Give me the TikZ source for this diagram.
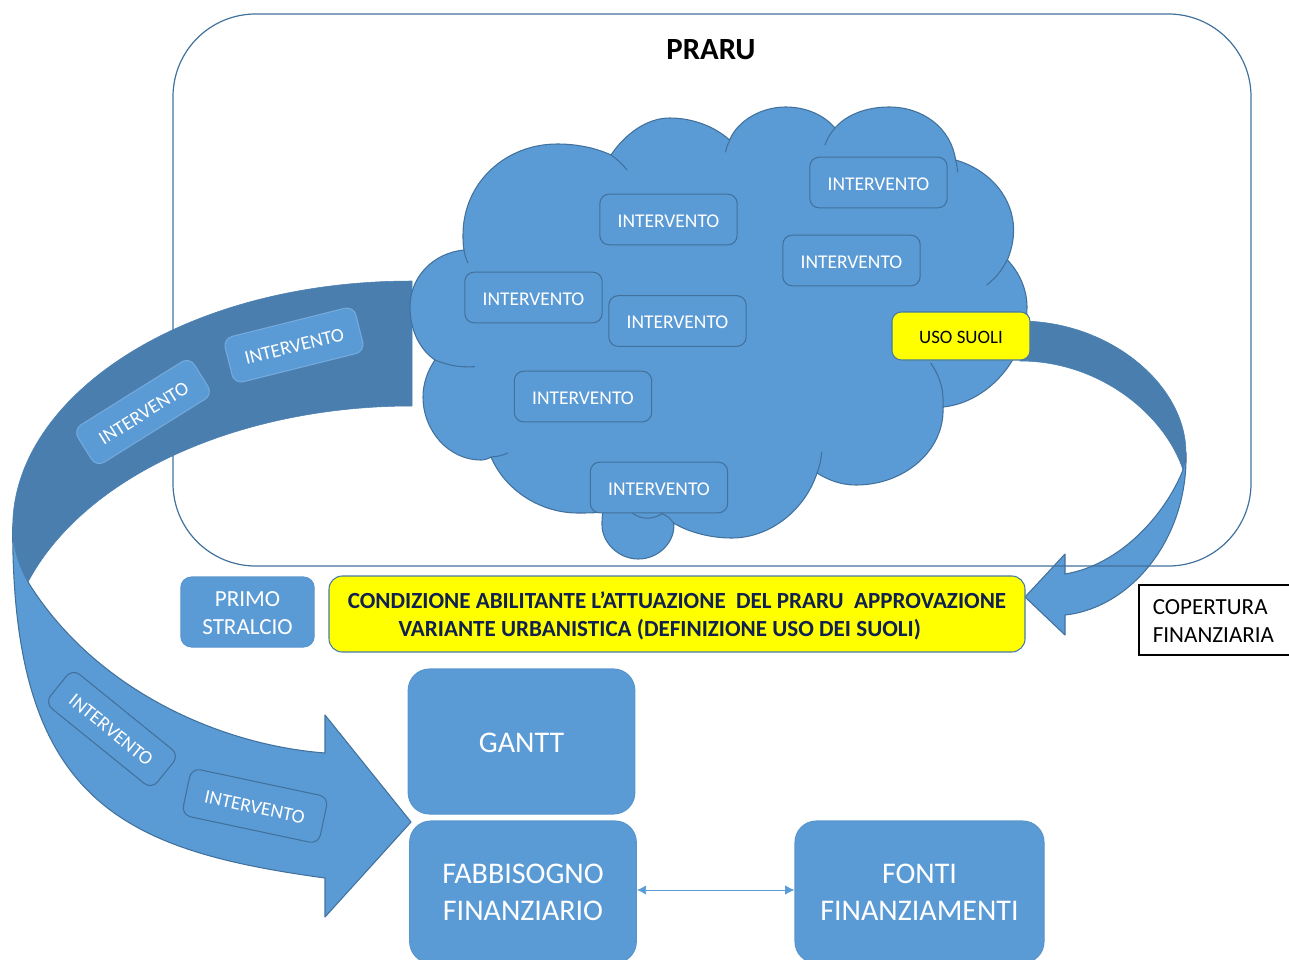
\documentclass[tikz,border=0pt]{standalone}
\usepackage{fontspec}
\setmainfont{Carlito}
\usetikzlibrary{arrows.meta}
\definecolor{bluefill}{HTML}{5B9BD5}
\definecolor{bluedark}{HTML}{4A7EAF}
\definecolor{blueline}{HTML}{41719C}
\definecolor{navytext}{HTML}{10204F}
\definecolor{brightyellow}{HTML}{FFFF00}
\tikzset{
  shapeline/.style={draw=blueline,line width=0.8pt,line join=round},
  arrowlight/.style={shapeline,fill=bluefill},
  arrowdark/.style={draw=bluedark,fill=bluedark,line width=0.4pt,line join=round},
  innerarc/.style={draw=blueline,line width=0.8pt,line cap=round},
  interv/.style={draw=blueline,line width=0.8pt,fill=bluefill,rounded corners=7pt,text=white,
    minimum width=103pt,minimum height=38pt,inner sep=0pt,text height=11.5pt,text depth=0pt,
    font=\fontsize{14.6}{17}\selectfont},
  intervlight/.style={interv,draw=bluefill!85!white},
  bigbox/.style={draw=bluefill!85!blueline,line width=0.8pt,fill=bluefill,rounded corners=16pt,text=white,
    inner sep=0pt,align=center,font=\fontsize{22.5}{27.8}\selectfont},
  smallbox/.style={bigbox,rounded corners=8pt,font=\fontsize{17.3}{21}\selectfont},
  yellowbox/.style={draw=blueline!80!bluefill,line width=0.8pt,fill=brightyellow,inner sep=0pt},
}
\begin{document}
\begin{tikzpicture}[x=0.75pt,y=-0.75pt]
\useasboundingbox (0,0) rectangle (1289,960);
% right curved arrow
\draw[arrowlight] (1186,453) .. controls (1188,540) and (1130,608) .. (1065,615)
  -- (1065,635) -- (1025,597) -- (1065,554) -- (1065,574)
  .. controls (1120,565) and (1165,515) .. (1183,470) -- cycle;
\draw[arrowdark] (1020,321) .. controls (1110,321) and (1186,385) .. (1186,453)
  -- (1183,470) .. controls (1165,415) and (1100,361) .. (1020,361) -- cycle;
% frame
\node[draw=blueline,line width=0.9pt,rounded corners=62pt,minimum width=808.5pt,minimum height=414pt,inner sep=0pt] (frame) at (712,290) {};
\node[font=\fontsize{23.1}{27}\selectfont\bfseries] (title) at (711,50) {PRARU};
% left curved arrow
\draw[arrowlight] (12.7,527) .. controls (12,800) and (120,850) .. (325,878)
  -- (325,917) -- (411,822) -- (325,715) -- (325,753)
  .. controls (220,745) and (95,690) .. (28,582) -- cycle;
\draw[arrowdark] (412,281) .. controls (182,281) and (12.7,397) .. (12.7,527)
  .. controls (12.7,545) and (18,565) .. (28,582)
  .. controls (85,475) and (240,406) .. (412,406) -- cycle;
% cloud
\draw[shapeline,fill=bluefill]
  (464,250) .. controls (463,245) and (463,240) .. (463,235)
  .. controls (463,183) and (505,144) .. (557.5,144) .. controls (577,144) and (596,148) .. (611,155)
  .. controls (625,134) and (647,118) .. (669.5,118) .. controls (692,118) and (714,126) .. (729.6,140)
  .. controls (738,120) and (762,107) .. (785.6,107) .. controls (806,107) and (824,115) .. (835,128)
  .. controls (846,115) and (866,107) .. (889,107) .. controls (923,107) and (951,128) .. (955.6,160)
  .. controls (990,170) and (1013.6,198) .. (1013.6,230) .. controls (1013.6,241) and (1011,251) .. (1007.4,260)
  .. controls (1019,272) and (1027,289) .. (1027,307) .. controls (1027,362) and (985,403) .. (943,407)
  .. controls (945,450) and (905,485) .. (856,485) .. controls (841,485) and (828,480) .. (817,473)
  .. controls (805,510) and (770,538) .. (731.7,538) .. controls (710,538) and (688,532) .. (673.6,523)
  .. controls (676,540) and (660,559) .. (638.4,559) .. controls (618,559) and (602,542) .. (602,525)
  .. controls (602,520) and (602,516) .. (603,512)
  .. controls (594,513) and (586,513) .. (578,513) .. controls (540,513) and (505,490) .. (491,457)
  .. controls (488,459) and (484,460) .. (481,460) .. controls (448,460) and (423,430) .. (423,397)
  .. controls (423,383) and (428,370) .. (435,360)
  .. controls (420,350) and (410,330) .. (410,307) .. controls (410,277) and (433,253) .. (464,250) -- cycle;
\draw[innerarc] (464,250) to[bend right=8] (468,263);
\draw[innerarc] (611,155) to[bend left=8] (627,170);
\draw[innerarc] (730,140) to[bend right=8] (725.5,152);
\draw[innerarc] (835,128) to[bend right=10] (825,145);
\draw[innerarc] (955.6,160) to[bend left=5] (957.6,172);
\draw[innerarc] (1007,260) to[bend left=12] (986.7,285);
\draw[innerarc] (943,407) to[bend right=18] (930.7,363);
\draw[innerarc] (817,473) to[bend right=8] (821.7,452);
\draw[innerarc] (491,457) to[bend right=10] (507.8,453);
\draw[innerarc] (435,360) to[bend right=12] (474.6,366.7);
\draw[innerarc] (632,513) to[bend right=35] (663,513);
\draw[innerarc] (661,513) to[bend left=15] (673.6,523);
% cloud boxes
\node[interv] (i1) at (668.5,219.5) {INTERVENTO};
\node[interv] (i2) at (878.5,182.5) {INTERVENTO};
\node[interv] (i3) at (851.5,260.5) {INTERVENTO};
\node[interv] (i4) at (533.5,297.5) {INTERVENTO};
\node[interv] (i5) at (677.5,321) {INTERVENTO};
\node[interv] (i6) at (583,396.5) {INTERVENTO};
\node[interv] (i7) at (659,487.5) {INTERVENTO};
\node[yellowbox,rounded corners=7pt,minimum width=103.5pt,minimum height=36pt,text height=11pt,text depth=0pt,font=\fontsize{14.2}{17}\selectfont,text=black!85!navytext] (uso) at (961,336) {USO SUOLI};
% arrow boxes
\node[intervlight,rotate=14,minimum width=101pt,minimum height=35pt] (a1) at (294,345) {INTERVENTO};
\node[intervlight,rotate=32,minimum width=103pt,minimum height=33pt] (a2) at (143,412) {INTERVENTO};
\node[interv,rotate=-39,minimum width=103pt,minimum height=33pt] (a3) at (112,729) {INTERVENTO};
\node[interv,rotate=-12,minimum width=105pt,minimum height=36pt] (a4) at (255,806) {INTERVENTO};
% middle row
\node[smallbox,minimum width=100pt,minimum height=52.5pt] (primo) at (247.5,612) {\rule{0pt}{12.5pt}PRIMO\\STRALCIO};
\node[yellowbox,rounded corners=10pt,minimum width=522pt,minimum height=57pt,text=navytext,align=left,
  font=\fontsize{17.3}{21}\selectfont\bfseries] (cond) at (677,614) {\rule{0pt}{15.5pt}CONDIZIONE ABILITANTE L’ATTUAZIONE\ \ DEL PRARU\ \ APPROVAZIONE\\\hspace*{38pt}VARIANTE URBANISTICA (DEFINIZIONE USO DEI SUOLI)};
\node[draw=black,line width=0.9pt,fill=white,minimum width=113.25pt,minimum height=52.5pt,inner sep=0pt,
  text width=92.5pt,align=left,font=\fontsize{17.3}{21}\selectfont] (cop) at (1214.5,620) {\rule{0pt}{12.5pt}COPERTURA\\FINANZIARIA};
% lower boxes
\node[bigbox,minimum width=170pt,minimum height=108.75pt,text height=16.6pt,text depth=0pt] (gantt) at (521.5,741.5) {GANTT};
\node[bigbox,minimum width=170pt,minimum height=106.5pt] (fabb) at (523,892) {FABBISOGNO\\FINANZIARIO};
\node[bigbox,minimum width=186.75pt,minimum height=106.5pt] (fonti) at (919.5,892) {FONTI\\FINANZIAMENTI};
\coordinate (linkrow) at (715,890);
\draw[{Latex[length=7pt,width=7pt]}-{Latex[length=7pt,width=7pt]},draw=bluefill,fill=bluefill,line width=0.7pt] (fabb.east |- linkrow) -- (fonti.west |- linkrow);
\end{tikzpicture}
\end{document}
